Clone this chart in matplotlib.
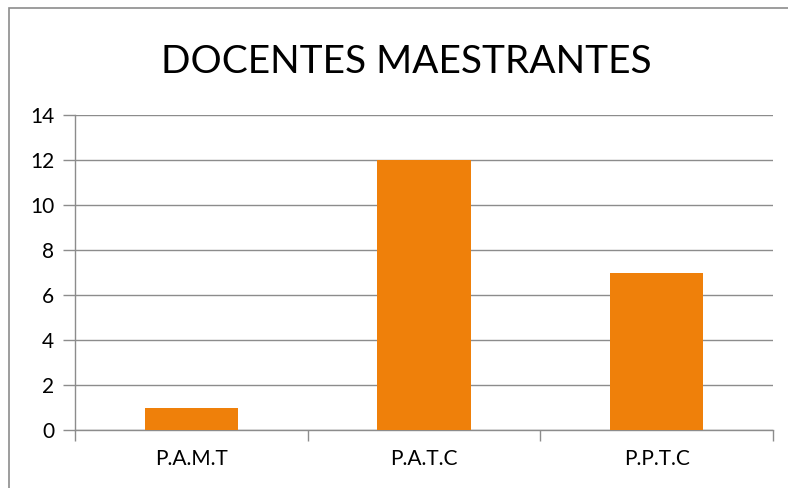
import matplotlib.pyplot as plt
from matplotlib.patches import Rectangle

# data
categories = ["P.A.M.T", "P.A.T.C", "P.P.T.C"]
values = [1, 12, 7]
yticks = [0, 2, 4, 6, 8, 10, 12, 14]

plt.rcParams['font.family'] = ['Lato', 'DejaVu Sans']
grey = '#8c8c8c'

fig = plt.figure(figsize=(7.88, 4.88), dpi=100)
fig.patch.set_facecolor('white')
# outer chart border (cut off at right/bottom)
fig.patches.append(Rectangle((9 / 788, -0.1), 1.2, 1 - 8 / 488 + 0.1,
                             transform=fig.transFigure, fill=False,
                             edgecolor=grey, linewidth=1.2))

ax = fig.add_axes([75 / 788, 1 - 430 / 488, (773 - 75) / 788, (430 - 115) / 488])
x = range(len(categories))
ax.bar(x, values, width=0.4, color='#ef800a', zorder=3)

ax.set_xlim(-0.5, 2.5)
ax.set_ylim(0, 14)
ax.set_yticks(yticks)
ax.set_xticks(list(x))
ax.set_xticklabels(categories)
ax.set_xticks([-0.5, 0.5, 1.5, 2.5], minor=True)
ax.tick_params(axis='x', which='major', length=0, pad=14, labelsize=15)
ax.tick_params(axis='x', which='minor', length=8, color=grey, width=1)
ax.tick_params(axis='y', length=9, color=grey, width=1, labelsize=15, pad=6)
ax.yaxis.grid(True, color=grey, linewidth=1, zorder=0)

for s in ['top', 'right']:
    ax.spines[s].set_visible(False)
for s in ['left', 'bottom']:
    ax.spines[s].set_color(grey)
    ax.spines[s].set_linewidth(1)

fig.text(406 / 788, 1 - 62 / 488, "DOCENTES MAESTRANTES", ha='center', va='center',
         fontsize=28)

fig.savefig('out.png', dpi=100)
